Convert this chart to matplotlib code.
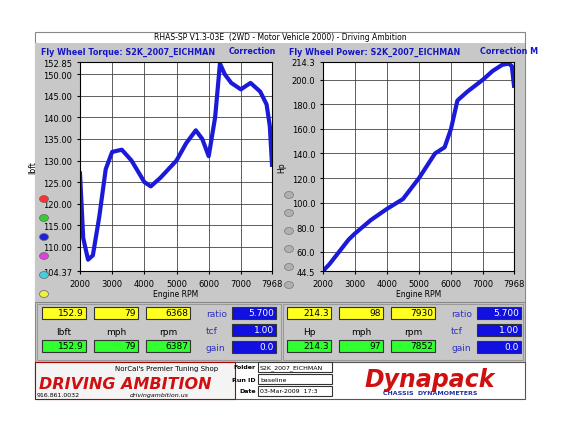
import matplotlib
matplotlib.use("Agg")
import matplotlib.pyplot as plt
from matplotlib.patches import Rectangle, Circle

rpm_t = [2000, 2100, 2250, 2400, 2600, 2800, 3000, 3300, 3600, 4000, 4200, 4500, 5000, 5300, 5600, 5800, 6000, 6200, 6350, 6500, 6700, 7000, 7300, 7600, 7800, 7900, 7968]
torque = [127, 112, 107, 108, 117, 128, 132, 132.5, 130, 125, 124, 126, 130, 134, 137, 135, 131, 140, 152.5, 150, 148, 146.5, 148, 146, 143, 138, 129]
rpm_p = [2000, 2200, 2500, 2800, 3000, 3500, 4000, 4500, 5000, 5500, 5800, 6000, 6200, 6500, 7000, 7300, 7600, 7800, 7900, 7968]
power = [44.5, 50, 60, 70, 75, 86, 95, 103, 120, 140, 145, 160, 183, 190, 200, 207, 212, 213, 211, 195]
t_ticks = [104.37, 110, 115, 120, 125, 130, 135, 140, 145, 150, 152.85]
p_ticks = [44.5, 60, 80, 100, 120, 140, 160, 180, 200, 214.3]
x_ticks = [2000, 3000, 4000, 5000, 6000, 7000, 7968]

W, H = 563, 435
fig = plt.figure(figsize=(W/100, H/100), dpi=100)
fig.patch.set_facecolor("white")

def box(x, y, w, h, fc, ec="none", lw=0.8, z=-1):
    fig.patches.append(Rectangle((x/W, 1-(y+h)/H), w/W, h/H, transform=fig.transFigure, fc=fc, ec=ec, lw=lw, zorder=z))

def txt(x, y, s, **kw):
    fig.text(x/W, 1-y/H, s, zorder=6, **kw)

box(35, 33, 490, 270, "white", "#888888", z=-3)
box(35, 44, 490, 16, "#c8c8c8", z=-2)
box(35, 60, 490, 243, "#c8c8c8", z=-2)
txt(280, 38, "RHAS-SP V1.3-03E  (2WD - Motor Vehicle 2000) - Driving Ambition", fontsize=5.5, ha="center", va="center")
txt(41, 52, "Fly Wheel Torque: S2K_2007_EICHMAN", fontsize=5.8, color="#1515c8", weight="bold", va="center")
txt(229, 52, "Correction", fontsize=5.8, color="#1515c8", weight="bold", va="center")
txt(289, 52, "Fly Wheel Power: S2K_2007_EICHMAN", fontsize=5.8, color="#1515c8", weight="bold", va="center")
txt(480, 52, "Correction M", fontsize=5.8, color="#1515c8", weight="bold", va="center")

def mkax(x0, x1, y0, y1):
    ax = fig.add_axes([x0/W, 1-y1/H, (x1-x0)/W, (y1-y0)/H])
    ax.set_zorder(3)
    return ax

axl = mkax(80, 272, 63, 272)
axl.plot(rpm_t, torque, color="#1a1ad8", lw=3)
axl.set_ylim(104.37, 152.85); axl.set_yticks(t_ticks)
axl.set_yticklabels([f"{v:.2f}" for v in t_ticks])
axl.set_ylabel("lbft", fontsize=5.5)
axr = mkax(323, 514, 63, 272)
axr.plot(rpm_p, power, color="#1a1ad8", lw=3)
axr.set_ylim(44.5, 214.3); axr.set_yticks(p_ticks)
axr.set_yticklabels([f"{v:.1f}" for v in p_ticks])
axr.set_ylabel("Hp", fontsize=5.5)
for ax in (axl, axr):
    ax.set_xlim(2000, 7968); ax.set_xticks(x_ticks)
    ax.grid(True, color="#444444", lw=0.6)
    ax.tick_params(labelsize=6, length=2)
    ax.set_xlabel("Engine RPM", fontsize=5.5, labelpad=1)
    ax.set_facecolor("white")

for i, c in enumerate(["#ff3030", "#30d030", "#2020e0", "#e040e0", "#40d0e0", "#f0f040"]):
    fig.patches.append(Circle((44/W, 1-(200+i*19)/H), 4.5/W, transform=fig.transFigure, fc=c, ec="#666666", lw=0.5, zorder=4))
for i in range(6):
    fig.patches.append(Circle((289/W, 1-(196+i*18)/H), 4.5/W, transform=fig.transFigure, fc="#b0b0b0", ec="#777777", lw=0.5, zorder=4))

def panel(x0, vals1, vals2, labels):
    for j in range(3):
        bx = x0 + j*52
        box(bx, 308, 44, 12, "#ffff20", "#333333", z=1)
        txt(bx+42, 314, vals1[j], fontsize=6.5, ha="right", va="center")
        txt(bx+22, 333, labels[j], fontsize=6.5, ha="center", va="center")
        box(bx, 341, 44, 12, "#30ff30", "#333333", z=1)
        txt(bx+42, 347, vals2[j], fontsize=6.5, ha="right", va="center")
    for k, (lab, v) in enumerate(zip(["ratio", "tcf", "gain"], ["5.700", "1.00", "0.0"])):
        txt(x0+164, 315+k*17, lab, fontsize=6.5, color="#3030c0", va="center")
        box(x0+190, 308+k*17, 44, 12, "#1010e0", "#333333", z=1)
        txt(x0+232, 314+k*17, v, fontsize=6.5, color="white", ha="right", va="center")

box(35, 303, 490, 60, "#c8c8c8", "#888888")
box(37, 305, 244, 56, "#c8c8c8", "#999999", z=0)
box(283, 305, 240, 56, "#c8c8c8", "#999999", z=0)
panel(42, ["152.9", "79", "6368"], ["152.9", "79", "6387"], ["lbft", "mph", "rpm"])
panel(287, ["214.3", "98", "7930"], ["214.3", "97", "7852"], ["Hp", "mph", "rpm"])

box(35, 363, 490, 37, "white", "#555555")
box(35, 363, 200, 37, "#f4f4f4", "#aa0000", z=0)
txt(39, 385, "DRIVING AMBITION", fontsize=11.5, color="#d01010", weight="bold", style="italic", va="center")
txt(115, 369, "NorCal's Premier Tuning Shop", fontsize=5, va="center")
txt(37, 396, "916.861.0032", fontsize=4.5, va="center")
txt(130, 396, "drivingambition.us", fontsize=4.5, va="center", style="italic")
for k, (lab, v) in enumerate(zip(["Folder", "Run ID", "Date"], ["S2K_2007_EICHMAN", "baseline", "03-Mar-2009  17:3"])):
    txt(256, 368+k*12, lab, fontsize=4.5, weight="bold", ha="right", va="center")
    box(258, 363+k*12, 74, 10, "white", "#333333", z=1)
    txt(260, 368+k*12, v, fontsize=4.5, va="center")
txt(430, 380, "Dynapack", fontsize=17, color="#d01010", weight="bold", style="italic", ha="center", va="center")
txt(430, 394, "CHASSIS  DYNAMOMETERS", fontsize=4.5, color="#2030a0", weight="bold", ha="center", va="center")

fig.savefig("out.png", dpi=100)
